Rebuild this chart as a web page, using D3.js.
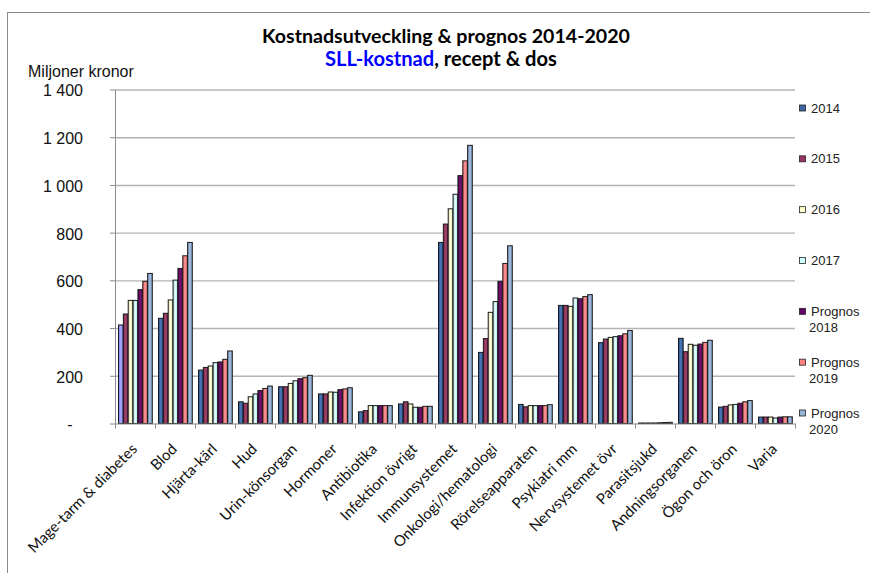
<!DOCTYPE html>
<html>
<head>
<meta charset="utf-8">
<script src="https://cdn.jsdelivr.net/npm/d3@7/dist/d3.min.js"></script>
<style>
  body { margin: 0; background: #fff; }
  svg { display: block; }
</style>
</head>
<body>
<svg id="chart" width="870" height="573"></svg>
<script>
// Therapy areas along the x axis
const categories = [
  "Mage-tarm & diabetes", "Blod", "Hjärta-kärl", "Hud", "Urin-könsorgan",
  "Hormoner", "Antibiotika", "Infektion övrigt", "Immunsystemet",
  "Onkologi/hematologi", "Rörelseapparaten", "Psykiatri mm",
  "Nervsystemet övr", "Parasitsjukd", "Andningsorganen", "Ögon och öron", "Varia"
];

// Series (years) and their legend labels
const seriesKeys   = ["2014", "2015", "2016", "2017", "2018", "2019", "2020"];
const seriesLabels = [["2014"], ["2015"], ["2016"], ["2017"],
                      ["Prognos", "2018"], ["Prognos", "2019"], ["Prognos", "2020"]];

// Cost in millions of SEK, one value per category
const cost2014 = [413, 441, 224,  91, 154, 124, 49, 82,  759, 298, 80, 495, 339, 2, 357, 69, 27];
const cost2015 = [459, 462, 235,  85, 154, 124, 54, 91,  836, 356, 70, 495, 354, 2, 301, 72, 27];
const cost2016 = [516, 518, 241, 112, 168, 132, 75, 82,  900, 466, 75, 491, 361, 2, 332, 78, 27];
const cost2017 = [516, 601, 255, 124, 179, 131, 75, 68,  961, 511, 75, 526, 364, 2, 328, 80, 23];
const cost2018 = [561, 650, 258, 138, 188, 142, 75, 68, 1039, 596, 75, 523, 368, 3, 333, 85, 27];
const cost2019 = [596, 703, 269, 147, 192, 145, 75, 72, 1101, 671, 75, 532, 376, 4, 340, 91, 28];
const cost2020 = [629, 759, 304, 157, 202, 150, 75, 72, 1166, 745, 79, 540, 390, 5, 349, 96, 28];

// Y axis ticks and their printed labels
const yTicks      = [0, 200, 400, 600, 800, 1000, 1200, 1400];
const yTickLabels = ["-", "200", "400", "600", "800", "1 000", "1 200", "1 400"];

const seriesValues = [cost2014, cost2015, cost2016, cost2017, cost2018, cost2019, cost2020];

// Fill colours: [edge, centre] for a soft cylindrical shading
const seriesColors = [
  ["#2a4d88", "#4a7bbd"],
  ["#77234d", "#a5436c"],
  ["#e0e0aa", "#ffffe0"],
  ["#a6dcdc", "#e2ffff"],
  ["#470047", "#751575"],
  ["#de6060", "#ff9898"],
  ["#7391bb", "#aac3e4"]
];
const legendColors = ["#3c66a6", "#993366", "#ffffcc", "#ccffff", "#660066", "#ff8080", "#95b3d7"];
// The first bar of the first group carries its own lighter fill
const firstBarColors = ["#8080ee", "#a8a8ff"];

const svg = d3.select("#chart");
const defs = svg.append("defs");

function addGradient(id, cols) {
  const g = defs.append("linearGradient").attr("id", id)
    .attr("x1", "0").attr("x2", "1").attr("y1", "0").attr("y2", "0");
  g.append("stop").attr("offset", "0%").attr("stop-color", cols[0]);
  g.append("stop").attr("offset", "50%").attr("stop-color", cols[1]);
  g.append("stop").attr("offset", "100%").attr("stop-color", cols[0]);
}
seriesColors.forEach((c, i) => addGradient("g" + i, c));
addGradient("gFirst", firstBarColors);

// Outer frame
svg.append("rect")
  .attr("x", 7.5).attr("y", 12.5).attr("width", 900).attr("height", 600)
  .attr("fill", "none").attr("stroke", "#8c8c8c").attr("stroke-width", 1);

// Plot geometry
const plotLeft = 115, plotRight = 795, plotTop = 89.5, plotBottom = 423.5;

const y = d3.scaleLinear().domain([0, 1400]).range([plotBottom, plotTop]);
const x = d3.scaleBand().domain(categories).range([plotLeft, plotRight])
  .paddingInner(0.15).paddingOuter(0.075);
const xs = d3.scaleBand().domain(seriesKeys).range([0, x.bandwidth()]).padding(0);
const xEdge = d3.scaleLinear().domain([0, categories.length]).range([plotLeft, plotRight]);

// Horizontal gridlines
const grid = svg.append("g").attr("transform", `translate(${plotLeft},0)`)
  .call(d3.axisLeft(y).tickValues(yTicks.slice(1)).tickSize(-(plotRight - plotLeft)).tickFormat(""));
grid.select(".domain").remove();
grid.selectAll("line").attr("stroke", "#b4b4b4").attr("stroke-width", 1.4);

// Y axis
const yAxis = svg.append("g").attr("transform", `translate(${plotLeft},0)`)
  .call(d3.axisLeft(y).tickValues(yTicks).tickSize(5).tickSizeOuter(0)
    .tickFormat((d, i) => yTickLabels[i]));
yAxis.select(".domain").attr("stroke", "#8c8c8c");
yAxis.selectAll(".tick line").attr("stroke", "#8c8c8c");
yAxis.selectAll(".tick text")
  .attr("font-family", "'Liberation Sans', Arial, sans-serif")
  .attr("font-size", 16).attr("fill", "#111")
  .attr("x", -32).attr("dy", "0.4em");
yAxis.selectAll(".tick").filter(d => d === 0).select("text")
  .attr("text-anchor", "middle").attr("x", -45);

// Bars
const groups = svg.append("g").selectAll("g")
  .data(categories).join("g")
  .attr("transform", d => `translate(${x(d)},0)`);

groups.selectAll("rect")
  .data((c, ci) => seriesKeys.map((k, si) => ({ key: k, si, ci, value: seriesValues[si][ci] })))
  .join("rect")
  .attr("x", d => xs(d.key) + 0.5)
  .attr("width", xs.bandwidth() - 0.2)
  .attr("y", d => y(d.value))
  .attr("height", d => y(0) - y(d.value))
  .attr("fill", d => (d.ci === 0 && d.si === 0) ? "url(#gFirst)" : `url(#g${d.si})`)
  .attr("stroke", "#1a1a1a")
  .attr("stroke-width", 1);

// X axis with tick marks between categories
const xAxis = svg.append("g").attr("transform", `translate(0,${plotBottom})`)
  .call(d3.axisBottom(xEdge).tickValues(d3.range(categories.length + 1))
    .tickSize(5).tickSizeOuter(0).tickFormat(""));
xAxis.select(".domain").attr("stroke", "#8c8c8c");
xAxis.selectAll(".tick line").attr("stroke", "#8c8c8c");

// Rotated category labels
svg.append("g").selectAll("text")
  .data(categories).join("text")
  .attr("transform", d => `translate(${x(d) + x.bandwidth() / 2 + 3},450) rotate(-45)`)
  .attr("text-anchor", "end")
  .attr("font-family", "Lato, 'Open Sans', sans-serif")
  .attr("font-size", 15).attr("fill", "#111")
  .text(d => d);

// Titles: the font size is tuned so each line fills its intended width
function fitWidth(sel, width) {
  const base = +sel.attr("font-size");
  const w = sel.node().getComputedTextLength();
  if (w > 0) sel.attr("font-size", base * width / w);
}

const title = svg.append("text")
  .attr("x", 446).attr("y", 43).attr("text-anchor", "middle")
  .attr("font-family", "Lato, 'Open Sans', sans-serif")
  .attr("font-weight", "bold").attr("font-size", 19.5).attr("fill", "#000")
  .text("Kostnadsutveckling & prognos 2014-2020");
fitWidth(title, 368);

const sub = svg.append("text")
  .attr("x", 441).attr("y", 66).attr("text-anchor", "middle")
  .attr("font-family", "Lato, 'Open Sans', sans-serif")
  .attr("font-weight", "bold").attr("font-size", 19).attr("fill", "#000");
sub.append("tspan").attr("fill", "#0000ff").text("SLL-kostnad");
sub.append("tspan").text(", recept & dos");
fitWidth(sub, 232);

// Y axis unit
svg.append("text")
  .attr("x", 28).attr("y", 77)
  .attr("font-family", "'Liberation Sans', Arial, sans-serif")
  .attr("font-size", 16).attr("fill", "#111")
  .text("Miljoner kronor");

// Legend
const ly = d3.scaleLinear().domain([0, seriesKeys.length - 1]).range([107.5, 412.5]);
const legend = svg.append("g").selectAll("g")
  .data(seriesLabels).join("g")
  .attr("transform", (d, i) => `translate(799,${ly(i)})`);
legend.append("rect")
  .attr("x", 0.5).attr("y", -2.5).attr("width", 6).attr("height", 6)
  .attr("fill", (d, i) => legendColors[i]).attr("stroke", "#222").attr("stroke-width", 0.8);
const lt = legend.append("text")
  .attr("x", 12).attr("y", 5)
  .attr("font-family", "'Liberation Sans', Arial, sans-serif")
  .attr("font-size", 13).attr("fill", "#222");
lt.selectAll("tspan").data(d => d).join("tspan")
  .attr("x", (d, i) => i === 0 ? 12 : 10)
  .attr("dy", (d, i) => i === 0 ? 0 : 16)
  .text(d => d);
</script>
</body>
</html>
